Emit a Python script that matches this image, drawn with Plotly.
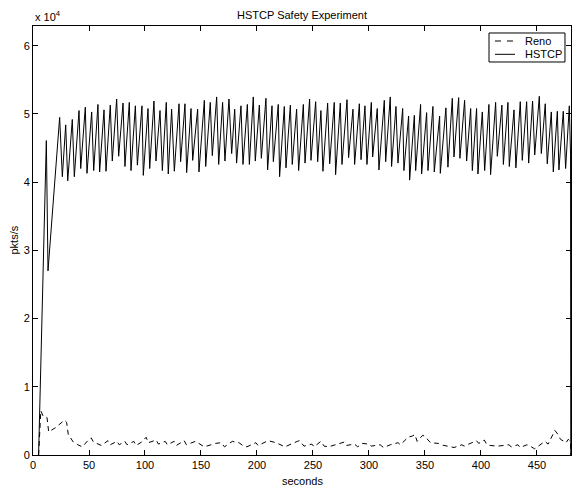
import plotly.graph_objects as go

# HSTCP throughput vertices (seconds, thousands of pkts/s)
hstcp_t = [5.0, 11.9, 13.4,
           23.8, 26.2, 29.2, 31.0, 35.1, 36.9, 41.1, 42.6, 46.7, 48.2, 52.4, 54.2, 58.0, 59.5,
           63.4, 65.2, 69.0, 70.8, 74.7, 76.5, 80.4, 82.1, 86.0, 87.5, 91.4, 93.2, 97.3, 98.5,
           102.7, 104.2, 108.0, 109.8, 113.4, 115.5, 119.0, 120.8,
           123.8, 126.2, 130.4, 131.8, 135.7, 137.2, 141.1, 142.6, 147.0, 148.2, 153.0, 154.2,
           158.3, 160.1, 164.0, 165.8, 169.3, 171.4, 175.0, 177.4, 180.1, 181.8, 185.7, 187.5,
           191.4, 193.2, 196.7, 198.5, 202.1, 203.9, 208.0, 209.5, 213.4, 214.6, 219.0, 220.2,
           224.4, 225.9, 229.8, 231.5, 235.4, 237.2, 241.4, 242.9,
           247.0, 248.2, 252.4, 254.2, 257.1, 258.9, 263.1, 264.9, 269.0, 270.2, 274.4, 275.9,
           280.4, 281.8, 285.7, 287.2, 291.4, 292.9, 296.4, 298.2, 302.1, 303.3, 307.4, 308.9,
           313.7, 314.9, 319.0, 320.2, 324.1, 325.9, 330.1, 331.2, 335.4, 336.3, 340.5, 341.7,
           346.1, 347.0, 351.5, 352.7, 357.1, 358.3, 363.1, 363.7,
           368.7, 370.5, 374.4, 375.9, 380.1, 381.2, 385.4, 387.2, 390.8, 392.3, 396.1, 397.3,
           401.2, 403.3, 407.1, 408.6, 413.1, 414.6, 418.7, 420.0, 424.1, 425.3, 429.5, 431.2,
           435.1, 436.9, 440.8, 442.6, 446.1, 448.0, 452.1, 453.9, 457.4, 459.2, 462.8, 464.6,
           468.2, 469.6, 473.5, 475.6, 478.9, 480.0, 480.2]
hstcp_k = [0.0, 46.1, 27.0,
           49.5, 40.8, 48.4, 40.2, 49.2, 40.8, 50.5, 42.0, 51.0, 41.3, 50.3, 41.7, 51.4, 41.5,
           50.6, 41.6, 51.3, 43.1, 52.2, 43.8, 51.6, 42.3, 51.7, 41.7, 51.2, 42.5, 51.2, 41.0,
           50.8, 42.0, 51.9, 43.1, 50.5, 41.7, 51.7, 41.2,
           50.7, 41.6, 51.5, 43.0, 51.5, 41.4, 50.8, 43.2, 50.7, 41.5, 52.0, 42.3,
           51.7, 43.9, 52.5, 42.6, 51.7, 43.1, 52.2, 44.2, 50.7, 42.8, 51.2, 42.6,
           51.4, 42.6, 52.5, 43.1, 51.3, 43.5, 52.3, 41.8, 51.2, 43.0, 51.4, 40.8,
           51.1, 42.1, 51.3, 42.6, 50.7, 41.7, 51.4, 42.8,
           52.2, 43.2, 51.8, 43.0, 50.5, 41.6, 51.6, 42.7, 51.7, 41.1, 51.6, 42.6,
           52.1, 43.6, 50.7, 42.6, 51.5, 43.3, 51.2, 42.6, 51.7, 43.7, 50.8, 41.8,
           52.0, 43.0, 52.5, 42.3, 51.1, 42.8, 50.8, 41.7, 49.7, 40.3, 49.8, 41.7,
           51.4, 41.2, 50.2, 41.7, 51.1, 41.5, 49.7, 41.3,
           50.9, 42.2, 52.3, 43.7, 52.4, 43.5, 52.0, 43.1, 50.8, 41.7, 50.8, 41.2,
           50.3, 41.7, 51.4, 41.1, 51.7, 43.8, 51.3, 42.6, 51.7, 42.3, 50.6, 42.1,
           51.8, 43.2, 51.8, 42.8, 51.9, 44.0, 52.6, 44.2, 51.5, 42.7, 50.3, 41.5,
           50.4, 41.8, 50.4, 42.0, 51.2, 44.0, 0.0]

# Reno throughput vertices (seconds, thousands of pkts/s)
reno_t = [5, 7, 9, 12.5, 14, 20, 28, 30, 31.5, 36, 40, 44, 50, 52, 54, 59, 61, 67, 69, 75, 77,
          82, 84, 90, 92, 97, 101, 103, 110, 112, 118, 120, 126, 128, 135, 137, 145, 147, 153,
          163, 168, 171, 178, 184, 188, 191, 199, 201, 210, 217, 225, 236, 238, 242, 249, 251,
          257, 260, 264, 272, 278, 280, 287, 290, 294, 300, 302, 310, 313, 319, 326, 328, 335,
          339, 341, 343, 348, 350, 355, 362, 364, 370, 376, 383, 385, 396, 398, 403, 405, 408,
          415, 425, 427, 433, 435, 441, 444, 448, 457, 460, 466, 468, 471, 476, 478, 480, 480.2]
reno_k = [0, 6.5, 5.7, 5.5, 3.4, 4.0, 5.1, 4.8, 3.0, 1.9, 1.5, 1.2, 2.3, 2.5, 1.9, 1.6, 1.4, 2.1,
          1.5, 2.0, 1.5, 2.0, 1.5, 2.0, 1.4, 1.9, 2.6, 1.8, 2.2, 1.6, 2.0, 1.5, 2.0, 1.4, 2.1, 1.5,
          2.0, 1.8, 1.2, 1.7, 1.8, 1.2, 2.0, 1.8, 1.3, 1.2, 1.8, 1.4, 2.1, 1.8, 1.2, 2.0, 2.1, 1.3,
          1.6, 1.2, 2.0, 1.3, 1.2, 1.6, 1.9, 1.4, 1.6, 1.2, 1.7, 1.6, 1.3, 1.5, 1.1, 1.5, 1.8, 1.5,
          2.6, 2.8, 3.0, 2.0, 2.9, 2.7, 1.8, 1.7, 1.5, 1.3, 1.1, 1.5, 1.3, 2.1, 1.7, 2.2, 1.6, 1.4,
          1.3, 1.5, 1.2, 1.5, 1.1, 1.5, 1.3, 0.9, 2.0, 1.6, 3.6, 3.2, 2.3, 1.8, 2.3, 2.0, 0.0]

x_ticks = [0, 50, 100, 150, 200, 250, 300, 350, 400, 450]
y_ticks = [0, 1, 2, 3, 4, 5, 6]
y_tick_labels = ["0", "1", "2", "3", "4", "5", "6"]
series_names = ["Reno", "HSTCP"]

fig = go.Figure()
fig.add_trace(go.Scatter(x=reno_t, y=[v * 1000 for v in reno_k], mode="lines", name=series_names[0],
                         line=dict(color="black", width=1, dash="5px,4px"), showlegend=False))
fig.add_trace(go.Scatter(x=hstcp_t, y=[v * 1000 for v in hstcp_k], mode="lines", name=series_names[1],
                         line=dict(color="black", width=1), showlegend=False))

font = dict(family="Liberation Sans, Arial, sans-serif", size=11, color="black")

# compact MATLAB-style legend box drawn in paper coordinates
lx0, lx1, ly0, ly1 = 0.8476, 0.9888, 0.9161, 0.9837
shapes = [
    dict(type="rect", xref="paper", yref="paper", x0=lx0, x1=lx1, y0=ly0, y1=ly1,
         line=dict(color="black", width=1), fillcolor="white", layer="above"),
    dict(type="line", xref="paper", yref="paper", x0=0.8587, x1=0.8959, y0=0.965, y1=0.965,
         line=dict(color="black", width=1, dash="6px,6px"), layer="above"),
    dict(type="line", xref="paper", yref="paper", x0=0.8587, x1=0.8959, y0=0.934, y1=0.934,
         line=dict(color="black", width=1), layer="above"),
]

fig.update_layout(
    width=574, height=489,
    margin=dict(l=33, r=3, t=26, b=34),
    paper_bgcolor="white", plot_bgcolor="white",
    font=font,
    showlegend=False,
    shapes=shapes,
    xaxis=dict(range=[0, 480.4], tickvals=x_ticks, ticks="inside", ticklen=5, tickcolor="black",
               showline=True, linecolor="black", linewidth=1, mirror="ticks", showgrid=False,
               zeroline=False, tickfont=font),
    yaxis=dict(range=[0, 62900], tickvals=[v * 10000 for v in y_ticks], ticktext=y_tick_labels,
               ticks="inside", ticklen=5, tickcolor="black", showline=True, linecolor="black",
               linewidth=1, mirror="ticks", showgrid=False, zeroline=False, tickfont=font),
    annotations=[
        dict(text="HSTCP Safety Experiment", xref="paper", yref="paper", x=0.5, y=1,
             yanchor="bottom", yshift=3, showarrow=False, font=font),
        dict(text="seconds", xref="paper", yref="paper", x=0.5, y=0, yanchor="top",
             yshift=-18, showarrow=False, font=font),
        dict(text="pkts/s", xref="paper", yref="paper", x=0, y=0.5, xanchor="center",
             xshift=-20, textangle=-90, showarrow=False, font=font),
        dict(text="x 10<sup>4</sup>", xref="paper", yref="paper", x=0, y=1, xanchor="left",
             yanchor="bottom", yshift=1, showarrow=False, font=font),
        dict(text=series_names[0], xref="paper", yref="paper", x=0.9102, y=0.965,
             xanchor="left", yanchor="middle", showarrow=False, font=font),
        dict(text=series_names[1], xref="paper", yref="paper", x=0.9102, y=0.934,
             xanchor="left", yanchor="middle", showarrow=False, font=font),
    ],
)
fig.write_html("out.html")
